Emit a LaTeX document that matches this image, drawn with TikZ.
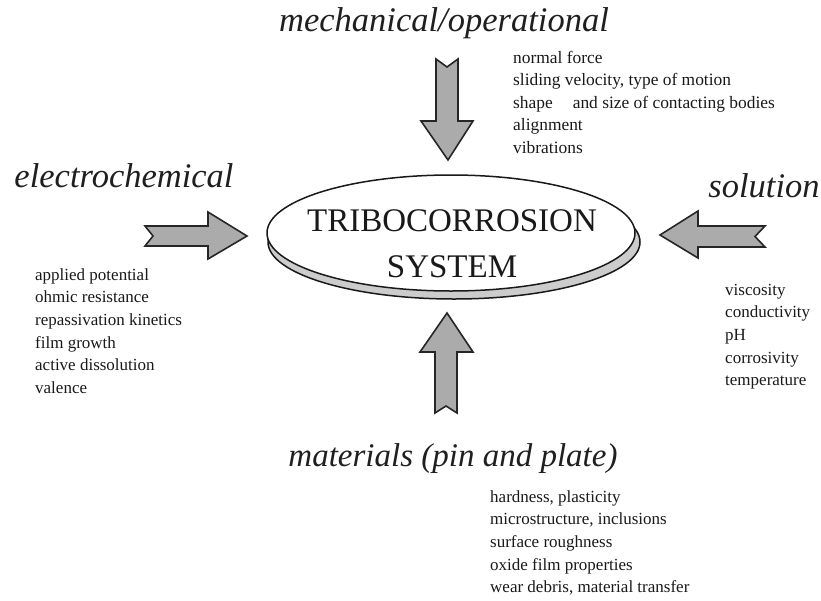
\documentclass[tikz,border=0pt]{standalone}
\usepackage{fontspec}
\setmainfont{Liberation Serif}
\begin{document}
\begin{tikzpicture}[x=1pt,y=-1pt,
  blockarrow/.style={draw=black!85, line width=1.6pt, line join=miter, fill=black!33},
  disk/.style={draw=black!90, line width=1.5pt},
  heading/.style={font=\fontsize{34.5}{38}\selectfont\itshape, text=black!88, inner sep=0pt},
  factors/.style={font=\fontsize{17}{22.7}\selectfont, text=black!90, align=left, inner sep=0pt, anchor=base west},
  centre/.style={font=\fontsize{33}{46}\selectfont, text=black!90, align=center, inner sep=0pt}]
\useasboundingbox (0,0) rectangle (821,600);
% central disk
\draw[disk, fill=black!20] (454,242) ellipse [x radius=186, y radius=57];
\draw[disk, fill=white] (451,233) ellipse [x radius=184, y radius=58];
\node[centre] (sys) at (452,244) {TRIBOCORROSION\\SYSTEM};
% block arrows
\draw[blockarrow] (145,226) -- (208,226) -- (208,212) -- (247,236) -- (208,259) -- (208,246) -- (145,246) -- (153,236) -- cycle;
\draw[blockarrow] (436,59) -- (436,121) -- (421,121) -- (448,160) -- (473,121) -- (458,121) -- (458,59) -- (447,67) -- cycle;
\draw[blockarrow] (765,226) -- (698,226) -- (698,211) -- (660,235) -- (698,258) -- (698,247) -- (765,247) -- (755,236.5) -- cycle;
\draw[blockarrow] (435,413) -- (435,352) -- (420,352) -- (447,313) -- (473,352) -- (457,352) -- (457,413) -- (446,406) -- cycle;
% headings
\node[heading, anchor=base] (mech) at (444,31) {mechanical/operational};
\node[heading, anchor=base] (elec) at (124,187) {electrochemical};
\node[heading, anchor=base] (sol) at (764,197) {solution};
\node[heading, anchor=base, font=\fontsize{33}{36}\selectfont\itshape] (mat) at (453,466) {materials (pin and plate)};
% factor lists (anchor is the baseline of the last line)
\node[factors, font=\fontsize{17.4}{22.5}\selectfont] (mechlist) at (513,153) {normal force\\sliding velocity, type of motion\\shape\hspace{0.9em} and size of contacting bodies\\alignment\\vibrations};
\node[factors] (eleclist) at (35,393.5) {applied potential\\ohmic resistance\\repassivation kinetics\\film growth\\active dissolution\\valence};
\node[factors] (sollist) at (725,385.8) {viscosity\\conductivity\\pH\\corrosivity\\temperature};
\node[factors] (matlist) at (490,592.8) {hardness, plasticity\\microstructure, inclusions\\surface roughness\\oxide film properties\\wear debris, material transfer};
\end{tikzpicture}
\end{document}
